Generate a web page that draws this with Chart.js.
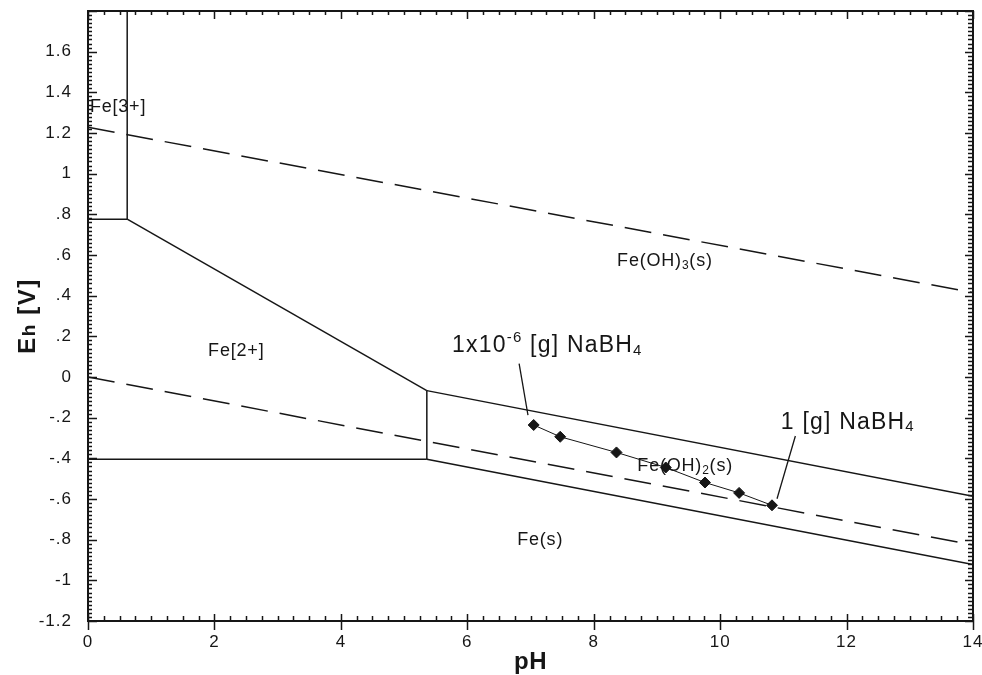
<!DOCTYPE html>
<html>
<head>
<meta charset="utf-8">
<script src="https://cdn.jsdelivr.net/npm/chart.js@4.4.0/dist/chart.umd.min.js"></script>
<style>
  html, body { margin: 0; padding: 0; background: #fff; }
  #wrap { width: 982px; height: 675px; }
</style>
</head>
<body>
<div id="wrap"><canvas id="pourbaix"></canvas></div>
<script>
// tick labels
var phTicks = [0, 2, 4, 6, 8, 10, 12, 14];
var ehTicks = [-1.2, -1, -0.8, -0.6, -0.4, -0.2, 0, 0.2, 0.4, 0.6, 0.8, 1, 1.2, 1.4, 1.6];

// stability boundaries, each point is [pH, Eh]
var fe3Vertical = [[0.62, 0.776], [0.62, 1.8]];
var fe3Horizontal = [[0, 0.776], [0.62, 0.776]];
var fe2FeOH3 = [[0.62, 0.776], [5.36, -0.067]];
var fe2FeOH2 = [[5.36, -0.067], [5.36, -0.405]];
var fe2Fe = [[0, -0.405], [5.36, -0.405]];
var feOH3FeOH2 = [[5.36, -0.067], [14, -0.587]];
var feOH2Fe = [[5.36, -0.405], [14, -0.922]];
// water stability limits (dashed)
var waterUpper = [[0, 1.228], [14, 0.415]];
var waterLower = [[0, 0], [14, -0.826]];

// measured points, NaBH4 from 1e-6 g to 1 g
var samplePh = [7.05, 7.47, 8.36, 9.14, 9.76, 10.30, 10.82];
var sampleEh = [-0.236, -0.294, -0.371, -0.445, -0.519, -0.570, -0.631];

var FONT = "'Liberation Sans', Arial, sans-serif";
var INK = '#161616';

function toXY(arr) {
  return arr.map(function (p) { return { x: p[0], y: p[1] }; });
}

function boundary(arr, dashed) {
  return {
    data: toXY(arr),
    borderColor: INK,
    borderWidth: 1.5,
    borderDash: dashed ? [27, 12] : [],
    pointRadius: 0,
    showLine: true,
    fill: false
  };
}

var sampleData = [];
for (var i = 0; i < samplePh.length; i++) {
  sampleData.push({ x: samplePh[i], y: sampleEh[i] });
}

// text labels: pieces [text, size, raise]
var labels = [
  { ph: 0.03, eh: 1.329, sp: 0.8, parts: [['Fe[3+]', 18, 0]] },
  { ph: 8.37, eh: 0.568, sp: 0.8, parts: [['Fe(OH)', 18, 0], ['3', 12, -4], ['(s)', 18, 0]] },
  { ph: 1.90, eh: 0.126, sp: 0.8, parts: [['Fe[2+]', 18, 0]] },
  { ph: 8.69, eh: -0.439, sp: 0.8, parts: [['Fe(OH)', 18, 0], ['2', 12, -4], ['(s)', 18, 0]] },
  { ph: 6.79, eh: -0.803, sp: 0.8, parts: [['Fe(s)', 18, 0]] },
  { ph: 5.76, eh: 0.155, sp: 1.2, parts: [['1x10', 23, 0], ['-6', 15, 8], [' [g] NaBH', 23, 0], ['4', 15, -5]] },
  { ph: 10.96, eh: -0.223, sp: 1.2, parts: [['1 [g] NaBH', 23, 0], ['4', 15, -5]] }
];
var pointers = [
  [[6.82, 0.066], [6.96, -0.187]],
  [[11.19, -0.290], [10.90, -0.599]]
];

function drawParts(ctx, x, y, parts, bold) {
  ctx.textBaseline = 'middle';
  ctx.textAlign = 'left';
  for (var k = 0; k < parts.length; k++) {
    var p = parts[k];
    ctx.font = (bold ? 'bold ' : '') + p[1] + 'px ' + FONT;
    ctx.fillText(p[0], x, y - p[2]);
    x += ctx.measureText(p[0]).width;
  }
  return x;
}

var framePlugin = {
  id: 'frame',
  beforeDraw: function (chart) {
    // the reference font is a bit wider spaced
    chart.ctx.letterSpacing = '1px';
  },
  afterDatasetsDraw: function (chart) {
    var ctx = chart.ctx;
    var a = chart.chartArea;
    var xs = chart.scales.x;
    var ys = chart.scales.y;
    ctx.save();
    ctx.strokeStyle = INK;
    ctx.fillStyle = INK;

    // pointers
    ctx.lineWidth = 1.3;
    pointers.forEach(function (pt) {
      ctx.beginPath();
      ctx.moveTo(xs.getPixelForValue(pt[0][0]), ys.getPixelForValue(pt[0][1]));
      ctx.lineTo(xs.getPixelForValue(pt[1][0]), ys.getPixelForValue(pt[1][1]));
      ctx.stroke();
    });

    // frame
    ctx.lineWidth = 2;
    ctx.strokeRect(a.left, a.top, a.right - a.left, a.bottom - a.top);

    // inward ticks
    ctx.lineWidth = 1.5;
    ctx.beginPath();
    for (var n = 0; n <= 150; n++) {
      var v = -1.2 + n * 0.02;
      var y = Math.round(ys.getPixelForValue(v)) + 0.5;
      var major = n % 10 === 0;
      ctx.moveTo(a.left, y); ctx.lineTo(a.left + (major ? 9 : 4), y);
      ctx.moveTo(a.right, y); ctx.lineTo(a.right - (major ? 8 : 5), y);
    }
    for (var m = 0; m <= 56; m++) {
      var x = Math.round(xs.getPixelForValue(m * 0.25)) + 0.5;
      var big = m % 8 === 0;
      if (big) {
        ctx.moveTo(x, a.bottom - 7); ctx.lineTo(x, a.bottom + 9);
      } else {
        ctx.moveTo(x, a.bottom); ctx.lineTo(x, a.bottom - 5);
      }
      ctx.moveTo(x, a.top); ctx.lineTo(x, a.top + (big ? 8 : 4));
    }
    ctx.stroke();

    // region and annotation labels
    labels.forEach(function (l) {
      ctx.letterSpacing = l.sp + 'px';
      drawParts(ctx, xs.getPixelForValue(l.ph), ys.getPixelForValue(l.eh), l.parts, false);
    });

    // axis titles
    ctx.letterSpacing = '0.5px';
    ctx.font = 'bold 24px ' + FONT;
    ctx.textAlign = 'center';
    ctx.textBaseline = 'middle';
    ctx.fillText('pH', (a.left + a.right) / 2, 662);

    ctx.letterSpacing = '1.5px';
    ctx.translate(28, (a.top + a.bottom) / 2);
    ctx.rotate(-Math.PI / 2);
    var eParts = [['E', 24, 0], ['h', 19, -2], [' [V]', 24, 0]];
    var w = 0;
    eParts.forEach(function (p) {
      ctx.font = 'bold ' + p[1] + 'px ' + FONT;
      w += ctx.measureText(p[0]).width;
    });
    drawParts(ctx, -w / 2, 0, eParts, true);
    ctx.restore();
  }
};

function ehLabel(v) {
  var s = (Math.round(v * 10) / 10).toString();
  return s.replace(/^0\./, '.').replace(/^-0\./, '-.');
}

var chart = new Chart(document.getElementById('pourbaix'), {
  type: 'scatter',
  data: {
    datasets: [
      boundary(fe3Vertical, false),
      boundary(fe3Horizontal, false),
      boundary(fe2FeOH3, false),
      boundary(fe2FeOH2, false),
      boundary(fe2Fe, false),
      boundary(feOH3FeOH2, false),
      boundary(feOH2Fe, false),
      boundary(waterUpper, true),
      boundary(waterLower, true),
      {
        data: sampleData,
        showLine: true,
        borderColor: INK,
        borderWidth: 1,
        pointStyle: 'rectRot',
        pointRadius: 5.5,
        pointBackgroundColor: INK,
        pointBorderColor: INK
      }
    ]
  },
  options: {
    responsive: true,
    maintainAspectRatio: false,
    animation: false,
    layout: { padding: { top: 11, right: 9, left: 0, bottom: 0 } },
    plugins: { legend: { display: false }, tooltip: { enabled: false } },
    scales: {
      x: {
        type: 'linear',
        min: 0,
        max: 14,
        grid: { display: false, drawTicks: false },
        border: { display: false },
        afterBuildTicks: function (scale) {
          scale.ticks = phTicks.map(function (v) { return { value: v }; });
        },
        afterFit: function (scale) {
          scale.height = 54;
          scale.paddingLeft = 0;
          scale.paddingRight = 0;
        },
        ticks: {
          padding: 11,
          maxRotation: 0,
          autoSkip: false,
          color: INK,
          font: { family: FONT, size: 17 },
          callback: function (v) { return String(v); }
        }
      },
      y: {
        type: 'linear',
        min: -1.2,
        max: 1.8,
        grid: { display: false, drawTicks: false },
        border: { display: false },
        afterBuildTicks: function (scale) {
          scale.ticks = ehTicks.map(function (v) { return { value: v }; });
        },
        afterFit: function (scale) {
          scale.width = 88;
          scale.paddingTop = 0;
          scale.paddingBottom = 0;
        },
        ticks: {
          padding: 16,
          autoSkip: false,
          color: INK,
          font: { family: FONT, size: 17 },
          callback: function (v) { return ehLabel(v); }
        }
      }
    }
  },
  plugins: [framePlugin]
});
</script>
</body>
</html>
